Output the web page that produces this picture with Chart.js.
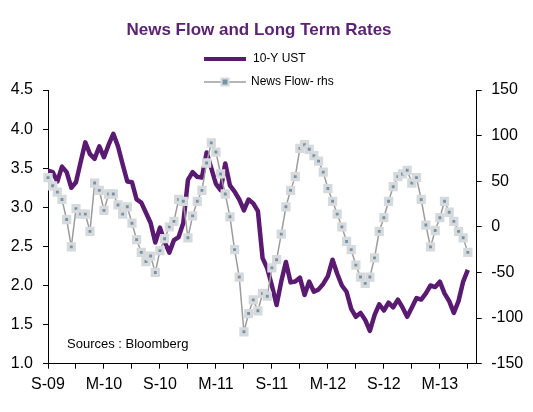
<!DOCTYPE html>
<html><head><meta charset="utf-8">
<script src="https://cdn.jsdelivr.net/npm/chart.js@4.4.1/dist/chart.umd.min.js"></script>
<style>html,body{margin:0;padding:0;background:#fff;}</style>
</head><body>
<canvas id="c" width="533" height="412"></canvas>
<script>
const chartTitle = 'News Flow and Long Term Rates';
const sourceNote = 'Sources : Bloomberg';
const seriesNames = ['10-Y UST', 'News Flow- rhs'];

// months since Sep-2009 (half-month steps)
const months = [0,0.5,1,1.5,2,2.5,3,3.5,4,4.5,5,5.5,6,6.5,7,7.5,8,8.5,9,9.5,
10,10.5,11,11.5,12,12.5,13,13.5,14,14.5,15,15.5,16,16.5,17,17.5,18,18.5,19,19.5,
20,20.5,21,21.5,22,22.5,23,23.5,24,24.5,25,25.5,26,26.5,27,27.5,28,28.5,29,29.5,
30,30.5,31,31.5,32,32.5,33,33.5,34,34.5,35,35.5,36,36.5,37,37.5,38,38.5,39,39.5,
40,40.5,41,41.5,42,42.5,43,43.5,44,44.5,45];

const ust10y = [3.47,3.45,3.33,3.52,3.45,3.25,3.32,3.58,3.83,3.68,3.62,3.78,3.64,3.80,3.94,3.78,3.55,3.33,3.32,3.10,
3.06,2.93,2.80,2.55,2.74,2.56,2.42,2.58,2.62,2.80,3.35,3.45,3.39,3.38,3.70,3.50,3.30,3.22,3.56,3.28,
3.20,3.10,2.96,3.10,3.05,2.95,2.35,2.22,2.00,1.75,2.05,2.30,2.04,2.05,2.10,1.88,2.05,1.92,1.95,2.02,
2.12,2.33,2.15,2.00,1.92,1.70,1.60,1.65,1.56,1.42,1.62,1.76,1.68,1.78,1.72,1.82,1.72,1.60,1.72,1.84,
1.82,1.90,2.00,1.98,2.05,1.90,1.80,1.65,1.80,2.05,2.20];

const newsFlow = [54,45,38,30,8,-22,20,14,14,-5,48,40,18,36,36,24,14,22,4,-14,
-28,-38,-32,-50,-26,-13,0,6,30,28,-12,12,28,40,70,92,82,58,36,11,
-25,-55,-115,-95,-80,-92,-73,-76,-45,-36,-8,22,40,55,86,90,85,78,72,60,
42,28,14,0,-16,-25,-42,-55,-62,-55,-34,-5,10,28,44,55,58,62,48,54,
30,2,-22,-4,10,28,16,6,-5,-12,-28];

const xTickMonths = [0,3,6,9,12,15,18,21,24,27,30,33,36,39,42,45];
const xTickLabels = ['S-09','','M-10','','S-10','','M-11','','S-11','','M-12','','S-12','','M-13',''];

const purple = '#5a1a72';
const newsLine = '#9c9c9c';
const newsFill = '#7893a3';
const newsEdge = '#d7dadd';

const headerPlugin = {
  id: 'header',
  afterDraw(chart) {
    const ctx = chart.ctx;
    ctx.save();
    ctx.fillStyle = '#5b2373';
    ctx.font = 'bold 17px "Liberation Sans", Arial, sans-serif';
    ctx.textAlign = 'center';
    ctx.textBaseline = 'middle';
    ctx.fillText(chartTitle, 259, 30);

    ctx.font = '12px "Liberation Sans", Arial, sans-serif';
    ctx.textAlign = 'left';
    ctx.fillStyle = '#000';
    // row 1
    ctx.strokeStyle = chart.data.datasets[0].borderColor;
    ctx.lineWidth = 4;
    ctx.beginPath(); ctx.moveTo(204, 59); ctx.lineTo(246, 59); ctx.stroke();
    ctx.fillText(chart.data.datasets[0].label, 253, 59);
    // row 2
    ctx.strokeStyle = chart.data.datasets[1].borderColor;
    ctx.lineWidth = 1.5;
    ctx.beginPath(); ctx.moveTo(204, 82); ctx.lineTo(246, 82); ctx.stroke();
    ctx.fillStyle = newsFill;
    ctx.strokeStyle = newsEdge;
    ctx.lineWidth = 2;
    ctx.fillRect(221.5, 78.5, 7, 7);
    ctx.strokeRect(221.5, 78.5, 7, 7);
    ctx.fillStyle = '#000';
    ctx.fillText(chart.data.datasets[1].label, 251, 82);

    ctx.font = '13px "Liberation Sans", Arial, sans-serif';
    ctx.fillText(sourceNote, 67, 344);
    ctx.restore();
  }
};

const axisFont = {family: '"Liberation Sans", Arial, sans-serif', size: 16};

new Chart(document.getElementById('c'), {
  type: 'line',
  data: {
    datasets: [
      {
        label: seriesNames[0],
        data: months.map((m, i) => ({x: m, y: ust10y[i]})),
        yAxisID: 'y',
        borderColor: purple,
        backgroundColor: purple,
        borderWidth: 4.5,
        pointRadius: 0,
        tension: 0,
        order: 2,
        borderJoinStyle: 'round'
      },
      {
        label: seriesNames[1],
        data: months.map((m, i) => ({x: m, y: newsFlow[i]})),
        yAxisID: 'y1',
        borderColor: newsLine,
        borderWidth: 1.5,
        pointStyle: 'rect',
        pointRadius: 4.3,
        pointBorderWidth: 3.2,
        pointBackgroundColor: newsFill,
        pointBorderColor: newsEdge,
        tension: 0,
        order: 1,
        clip: false
      }
    ]
  },
  options: {
    responsive: false,
    animation: false,
    layout: {padding: {top: 90, left: 0, right: 0, bottom: 0}},
    plugins: {legend: {display: false}, title: {display: false}, tooltip: {enabled: false}},
    scales: {
      x: {
        type: 'linear',
        min: 0,
        max: 45.95,
        afterBuildTicks: s => { s.ticks = xTickMonths.map(v => ({value: v})); },
        afterFit: s => { s.height = 48.3; },
        ticks: {
          autoSkip: false, maxRotation: 0, color: '#000', font: axisFont, padding: 6,
          callback: v => { const i = xTickMonths.indexOf(v); return i >= 0 ? xTickLabels[i] : ''; }
        },
        grid: {drawOnChartArea: false, drawTicks: true, tickLength: 5, color: '#000'},
        border: {display: true, color: '#000'}
      },
      y: {
        position: 'left',
        min: 1, max: 4.5,
        afterFit: s => { s.width = 48; },
        ticks: {stepSize: 0.5, color: '#000', font: axisFont, padding: 10, callback: v => v.toFixed(1)},
        grid: {drawOnChartArea: false, drawTicks: true, tickLength: 5, color: '#000'},
        border: {display: true, color: '#000'}
      },
      y1: {
        position: 'right',
        min: -150, max: 150,
        afterFit: s => { s.width = 56.3; },
        ticks: {stepSize: 50, color: '#000', font: axisFont, padding: 9.5, callback: v => String(v)},
        grid: {drawOnChartArea: false, drawTicks: true, tickLength: 5, color: '#000'},
        border: {display: true, color: '#000'}
      }
    }
  },
  plugins: [headerPlugin]
});
</script>
</body></html>
